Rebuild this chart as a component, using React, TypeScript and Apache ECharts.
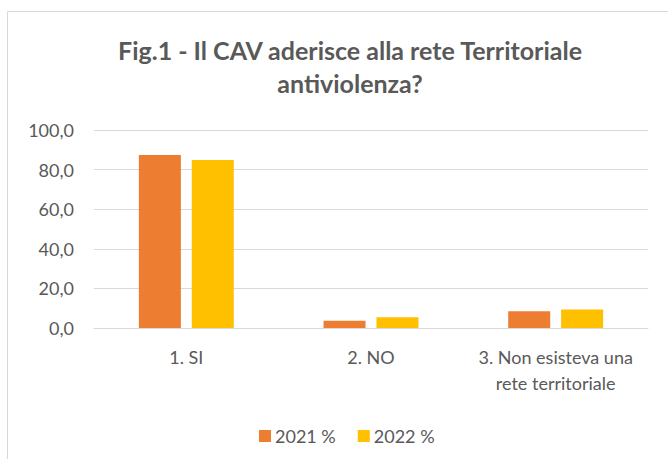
import React, { useEffect, useRef } from "react";
import * as echarts from "echarts";

const categories = ["1. SI", "2. NO", "3. Non esisteva una\nrete territoriale"];
const seriesNames = ["2021 %", "2022 %"];
const values2021 = [87.4, 3.7, 8.4];
const values2022 = [84.8, 5.4, 9.3];
const colors = ["#ED7D31", "#FFC000"];

const FONT = "Lato, 'Open Sans', sans-serif";

export default function App() {
  const ref = useRef<HTMLDivElement>(null);
  useEffect(() => {
    if (!ref.current) return;
    const chart = echarts.init(ref.current, null, { renderer: "svg" });
    chart.setOption({
      animation: false,
      backgroundColor: "#ffffff",
      title: {
        text: "Fig.1 - Il CAV aderisce alla rete Territoriale\nantiviolenza?",
        left: 345,
        textAlign: "center",
        top: 28,
        textStyle: {
          fontFamily: FONT,
          fontSize: 25,
          fontWeight: "bold",
          color: "#595959",
          lineHeight: 33,
        },
      },
      graphic: [
        {
          type: "rect",
          shape: { x: 7.5, y: 11.5, width: 700, height: 500 },
          style: { fill: "none", stroke: "#d9d9d9", lineWidth: 1 },
          silent: true,
        },
      ],
      legend: {
        data: seriesNames,
        left: 254,
        top: 422,
        itemWidth: 12,
        itemHeight: 12,
        itemGap: 22,
        icon: "rect",
        textStyle: { fontFamily: FONT, fontSize: 18, color: "#595959", padding: [0, 0, 0, -1] },
      },
      grid: { left: 94, right: 20, top: 130, bottom: 131 },
      xAxis: {
        type: "category",
        data: categories,
        axisLine: { lineStyle: { color: "#d9d9d9" } },
        axisTick: { show: false },
        axisLabel: {
          fontFamily: FONT,
          fontSize: 18,
          color: "#595959",
          margin: 16,
          lineHeight: 26,
          interval: 0,
        },
      },
      yAxis: {
        type: "value",
        min: 0,
        max: 100,
        interval: 20,
        axisLine: { show: false },
        axisTick: { show: false },
        splitLine: { lineStyle: { color: "#d9d9d9" } },
        axisLabel: {
          fontFamily: FONT,
          fontSize: 18,
          color: "#595959",
          margin: 20,
          formatter: (v: number) => v.toFixed(1).replace(".", ","),
        },
      },
      series: [
        {
          name: seriesNames[0],
          type: "bar",
          data: values2021,
          itemStyle: { color: colors[0] },
          barGap: "26%",
          barCategoryGap: "48.6%",
        },
        {
          name: seriesNames[1],
          type: "bar",
          data: values2022,
          itemStyle: { color: colors[1] },
          barGap: "26%",
          barCategoryGap: "48.6%",
        },
      ],
    });
    return () => chart.dispose();
  }, []);
  return (
    <div
      ref={ref}
      style={{ position: "absolute", left: 0, top: 0, width: 668, height: 459 }}
    />
  );
}
